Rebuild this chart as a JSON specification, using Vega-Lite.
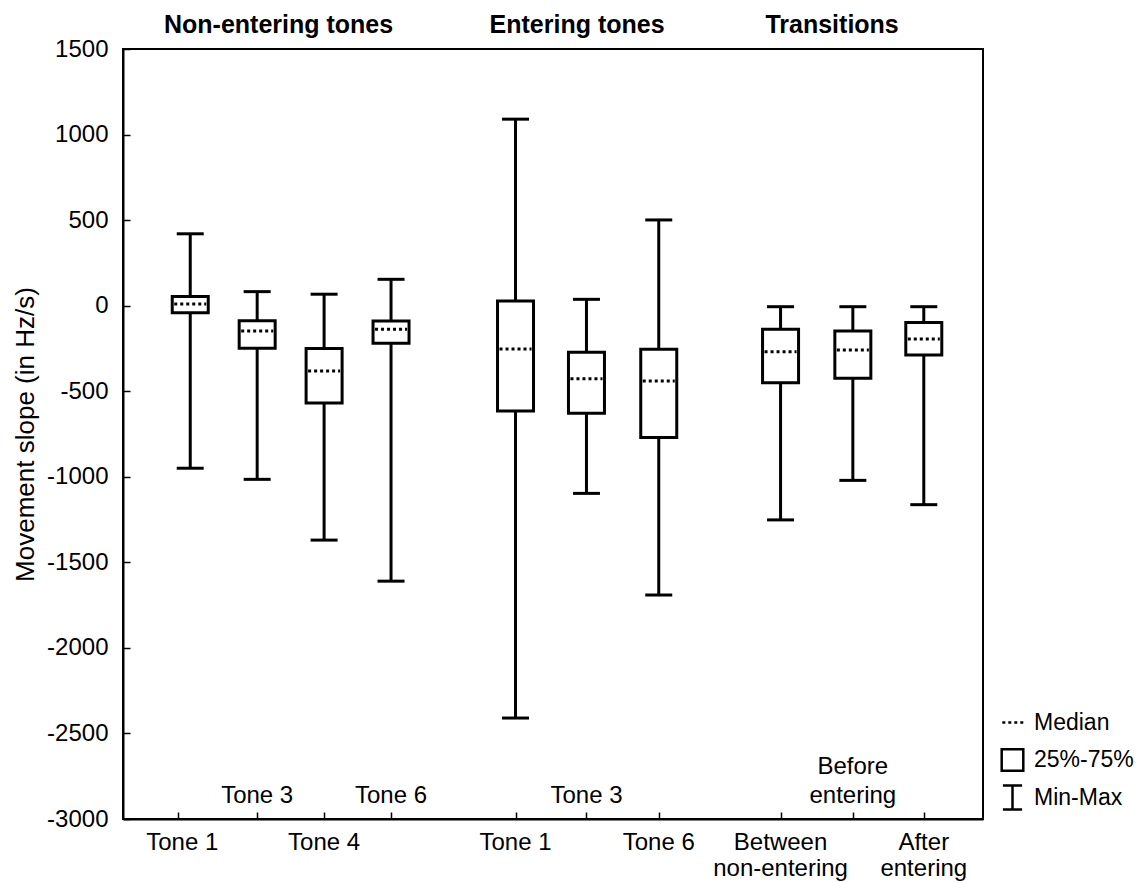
{
  "$schema": "https://vega.github.io/schema/vega-lite/v6.json",
  "autosize": {"type": "none"},
  "padding": {"left": 123, "top": 49, "right": 165, "bottom": 64},
  "width": 860,
  "height": 770,
  "background": "white",
  "datasets": {
    "boxes": [
      {"group": "Non-entering tones", "tone": "Tone 1", "pos": 1.0, "min": -950, "q1": -41, "median": 10, "q3": 53, "max": 420},
      {"group": "Non-entering tones", "tone": "Tone 3", "pos": 2.0, "min": -1015, "q1": -249, "median": -148, "q3": -88, "max": 82},
      {"group": "Non-entering tones", "tone": "Tone 4", "pos": 3.0, "min": -1370, "q1": -569, "median": -382, "q3": -251, "max": 67},
      {"group": "Non-entering tones", "tone": "Tone 6", "pos": 4.0, "min": -1610, "q1": -220, "median": -138, "q3": -89, "max": 154},
      {"group": "Entering tones", "tone": "Tone 1", "pos": 5.86, "min": -2410, "q1": -615, "median": -253, "q3": 27, "max": 1090},
      {"group": "Entering tones", "tone": "Tone 3", "pos": 6.92, "min": -1097, "q1": -629, "median": -427, "q3": -272, "max": 37},
      {"group": "Entering tones", "tone": "Tone 6", "pos": 8.0, "min": -1691, "q1": -771, "median": -440, "q3": -255, "max": 501},
      {"group": "Transitions", "tone": "Between non-entering", "pos": 9.82, "min": -1252, "q1": -450, "median": -269, "q3": -138, "max": -6},
      {"group": "Transitions", "tone": "Before entering", "pos": 10.9, "min": -1021, "q1": -424, "median": -259, "q3": -148, "max": -6},
      {"group": "Transitions", "tone": "After entering", "pos": 11.96, "min": -1163, "q1": -288, "median": -195, "q3": -99, "max": -6}
    ],
    "labels": [
      {"label": "Tone 3", "pos": 2.0, "row": 1},
      {"label": "Tone 6", "pos": 4.0, "row": 1},
      {"label": "Tone 3", "pos": 6.92, "row": 1},
      {"label": "Before\nentering", "pos": 10.9, "row": 0},
      {"label": "Tone 1", "pos": 0.88, "row": 2},
      {"label": "Tone 4", "pos": 3.0, "row": 2},
      {"label": "Tone 1", "pos": 5.86, "row": 2},
      {"label": "Tone 6", "pos": 8.0, "row": 2},
      {"label": "Between\nnon-entering", "pos": 9.82, "row": 2},
      {"label": "After\nentering", "pos": 11.96, "row": 2}
    ],
    "titles": [
      {"title": "Non-entering tones", "pos": 2.32},
      {"title": "Entering tones", "pos": 6.78},
      {"title": "Transitions", "pos": 10.59}
    ],
    "legend": [
      {"item": "Median"},
      {"item": "25%-75%"},
      {"item": "Min-Max"}
    ]
  },
  "layer": [
    {
      "data": {"name": "boxes"},
      "mark": {"type": "rule", "strokeWidth": 3, "color": "#000"},
      "encoding": {
        "x": {"field": "pos", "type": "quantitative", "scale": {"domain": [0.07, 12.77], "nice": false, "zero": false},
          "axis": {"title": null, "labels": false, "values": [0.81, 2, 3, 4, 5.86, 6.92, 8, 9.82, 10.9, 11.96], "tickSize": -7, "tickWidth": 1.5}},
        "y": {"field": "min", "type": "quantitative", "scale": {"domain": [-3000, 1500], "nice": false, "zero": false},
          "axis": {"title": "Movement slope (in Hz/s)", "values": [-3000, -2500, -2000, -1500, -1000, -500, 0, 500, 1000, 1500],
            "labelExpr": "'' + datum.value", "labelFontSize": 24, "tickSize": -7, "tickWidth": 1.5, "labelPadding": 22,
            "titleFontSize": 26, "titleFontWeight": "normal", "titlePadding": 8}},
        "y2": {"field": "max"}
      }
    },
    {
      "data": {"name": "boxes"},
      "mark": {"type": "rule", "strokeWidth": 3, "color": "#000", "xOffset": -13.5, "x2Offset": 13.5},
      "encoding": {
        "x": {"field": "pos", "type": "quantitative"},
        "x2": {"field": "pos"},
        "y": {"field": "max", "type": "quantitative"}
      }
    },
    {
      "data": {"name": "boxes"},
      "mark": {"type": "rule", "strokeWidth": 3, "color": "#000", "xOffset": -13.5, "x2Offset": 13.5},
      "encoding": {
        "x": {"field": "pos", "type": "quantitative"},
        "x2": {"field": "pos"},
        "y": {"field": "min", "type": "quantitative"}
      }
    },
    {
      "data": {"name": "boxes"},
      "mark": {"type": "bar", "width": 36, "fill": "white", "stroke": "#000", "strokeWidth": 3},
      "encoding": {
        "x": {"field": "pos", "type": "quantitative"},
        "y": {"field": "q1", "type": "quantitative"},
        "y2": {"field": "q3"}
      }
    },
    {
      "data": {"name": "boxes"},
      "mark": {"type": "rule", "strokeWidth": 3, "color": "#000", "strokeDash": [3, 3], "xOffset": -16, "x2Offset": 16},
      "encoding": {
        "x": {"field": "pos", "type": "quantitative"},
        "x2": {"field": "pos"},
        "y": {"field": "median", "type": "quantitative"}
      }
    },
    {
      "data": {"name": "labels"},
      "transform": [{"filter": "datum.row == 1"}],
      "mark": {"type": "text", "font": "Liberation Sans", "fontSize": 24, "baseline": "bottom", "align": "center", "dy": -11, "lineBreak": "\n", "lineHeight": 29, "color": "#000"},
      "encoding": {
        "x": {"field": "pos", "type": "quantitative"},
        "y": {"datum": -3000, "type": "quantitative"},
        "text": {"field": "label"}
      }
    },
    {
      "data": {"name": "labels"},
      "transform": [{"filter": "datum.row == 0"}],
      "mark": {"type": "text", "font": "Liberation Sans", "fontSize": 24, "baseline": "bottom", "align": "center", "dy": -40, "lineBreak": "\n", "lineHeight": 29, "color": "#000"},
      "encoding": {
        "x": {"field": "pos", "type": "quantitative"},
        "y": {"datum": -3000, "type": "quantitative"},
        "text": {"field": "label"}
      }
    },
    {
      "data": {"name": "labels"},
      "transform": [{"filter": "datum.row == 2"}],
      "mark": {"type": "text", "font": "Liberation Sans", "fontSize": 24, "baseline": "top", "align": "center", "dy": 12, "lineBreak": "\n", "lineHeight": 26, "color": "#000"},
      "encoding": {
        "x": {"field": "pos", "type": "quantitative"},
        "y": {"datum": -3000, "type": "quantitative"},
        "text": {"field": "label"}
      }
    },
    {
      "data": {"name": "titles"},
      "mark": {"type": "text", "font": "Liberation Sans", "fontSize": 25, "fontWeight": "bold", "baseline": "alphabetic", "align": "center", "dy": -16, "color": "#000"},
      "encoding": {
        "x": {"field": "pos", "type": "quantitative"},
        "y": {"datum": 1500, "type": "quantitative"},
        "text": {"field": "title"}
      }
    },
    {
      "data": {"name": "legend"},
      "transform": [{"filter": "false"}],
      "mark": {"type": "point", "filled": false, "color": "#000"},
      "encoding": {
        "shape": {"field": "item", "type": "nominal",
          "scale": {"domain": ["Median", "25%-75%", "Min-Max"],
            "range": ["M-0.85,0H-0.6M-0.35,0H-0.1M0.15,0H0.4M0.65,0H0.9", "M-0.9,-0.9H0.9V0.9H-0.9Z", "M-0.8,-1H0.8M0,-1V1M-0.8,1H0.8"]},
          "legend": {"title": null, "orient": "none", "legendX": 876, "legendY": 660, "gridAlign": "all",
            "labelFont": "Liberation Sans", "labelFontSize": 23, "labelColor": "#000", "labelOffset": 8,
            "symbolSize": 576, "symbolStrokeWidth": 2.5, "symbolStrokeColor": "#000", "symbolFillColor": "white", "symbolOpacity": 1, "rowPadding": 2.5}}
      }
    }
  ],
  "config": {
    "view": {"stroke": "#000", "strokeWidth": 2},
    "axis": {"domainColor": "#000", "domainWidth": 2, "tickColor": "#000", "labelColor": "#000", "titleColor": "#000",
      "labelFont": "Liberation Sans", "titleFont": "Liberation Sans", "grid": false}
  }
}
